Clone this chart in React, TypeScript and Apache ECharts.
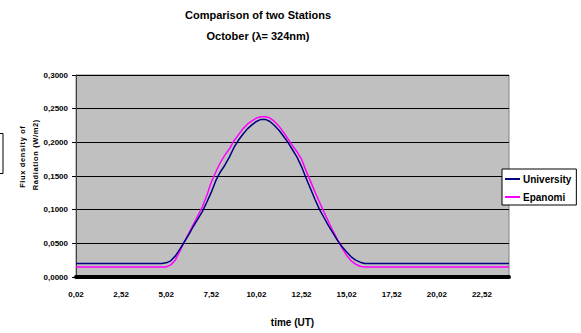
import React, { useEffect, useRef } from "react";
import * as echarts from "echarts";

// Sampling grid: every 0.25 h from 0.02 UT
const startHour = 0.02;
const stepHour = 0.25;
const sampleCount = 97;
const timeLabels = Array.from({ length: sampleCount }, (_, i) =>
  (startHour + stepHour * i).toFixed(2).replace(".", ",")
);

// Flux density (W/m2) at 324 nm, University station
const university = [
  0.02, 0.02, 0.02, 0.02, 0.02, 0.02, 0.02, 0.02, 0.02, 0.02,
  0.02, 0.02, 0.02, 0.02, 0.02, 0.02, 0.02, 0.02, 0.02, 0.02,
  0.021, 0.024, 0.031, 0.041, 0.052, 0.063, 0.075, 0.086, 0.097, 0.111,
  0.126, 0.143, 0.156, 0.166, 0.178, 0.192, 0.203, 0.212, 0.22, 0.226,
  0.231, 0.234, 0.234, 0.231, 0.225, 0.218, 0.209, 0.2, 0.189, 0.178,
  0.164, 0.147, 0.131, 0.115, 0.1, 0.088, 0.076, 0.065, 0.054, 0.045,
  0.037, 0.03, 0.025, 0.022, 0.02,
  0.02, 0.02, 0.02, 0.02, 0.02, 0.02, 0.02, 0.02, 0.02, 0.02,
  0.02, 0.02, 0.02, 0.02, 0.02, 0.02, 0.02, 0.02, 0.02, 0.02,
  0.02, 0.02, 0.02, 0.02, 0.02, 0.02, 0.02, 0.02, 0.02, 0.02,
  0.02, 0.02,
];

// Flux density (W/m2) at 324 nm, Epanomi station
const epanomi = [
  0.015, 0.015, 0.015, 0.015, 0.015, 0.015, 0.015, 0.015, 0.015, 0.015,
  0.015, 0.015, 0.015, 0.015, 0.015, 0.015, 0.015, 0.015, 0.015, 0.015,
  0.015, 0.018, 0.025, 0.038, 0.052, 0.065, 0.078, 0.091, 0.104, 0.121,
  0.141, 0.156, 0.17, 0.181, 0.19, 0.202, 0.211, 0.22, 0.227, 0.232,
  0.236, 0.238, 0.238, 0.236, 0.231, 0.224, 0.215, 0.205, 0.195, 0.186,
  0.175, 0.158, 0.142, 0.126, 0.111, 0.096, 0.082, 0.068, 0.055, 0.043,
  0.032, 0.024, 0.019, 0.016, 0.015,
  0.015, 0.015, 0.015, 0.015, 0.015, 0.015, 0.015, 0.015, 0.015, 0.015,
  0.015, 0.015, 0.015, 0.015, 0.015, 0.015, 0.015, 0.015, 0.015, 0.015,
  0.015, 0.015, 0.015, 0.015, 0.015, 0.015, 0.015, 0.015, 0.015, 0.015,
  0.015, 0.015,
];

const seriesNames = ["University", "Epanomi"];
const titleLines = ["Comparison of two Stations", "October (\u03bb= 324nm)"];
const yAxisTitleLines = ["Flux density of", "Radiation (W/m2)"];
const xAxisTitle = "time (UT)";

const FONT = "'Liberation Sans', Arial, sans-serif";

// widen the rotated axis title with a hair space between letters
const spaced = (s: string) => s.split("").join("\u200A");

export default function App() {
  const ref = useRef<HTMLDivElement>(null);

  useEffect(() => {
    document.body.style.margin = "0";
    if (!ref.current) return;
    const chart = echarts.init(ref.current, null, { renderer: "svg" });
    chart.setOption({
      animation: false,
      backgroundColor: "#ffffff",
      textStyle: { fontFamily: FONT },
      grid: {
        left: 76,
        right: 72,
        top: 75,
        bottom: 56,
        show: true,
        backgroundColor: "#C0C0C0",
        borderColor: "#808080",
        borderWidth: 1,
      },
      legend: {
        orient: "vertical",
        left: 502,
        top: 169,
        padding: [5, 5, 3, 3],
        itemGap: 8,
        itemWidth: 15,
        itemHeight: 2,
        icon: "rect",
        backgroundColor: "#ffffff",
        borderColor: "#000000",
        borderWidth: 1,
        borderRadius: 0,
        textStyle: {
          fontFamily: FONT,
          fontWeight: "bold",
          fontSize: 10,
          color: "#000000",
          padding: [0, 0, 0, -2],
        },
        data: seriesNames,
      },
      xAxis: {
        type: "category",
        data: timeLabels,
        boundaryGap: false,
        offset: 2,
        name: xAxisTitle,
        nameLocation: "middle",
        nameGap: 38,
        nameTextStyle: {
          fontFamily: FONT,
          fontWeight: "bold",
          fontSize: 10,
          color: "#000000",
        },
        axisLine: { show: true, lineStyle: { color: "#000000", width: 4 } },
        axisTick: { show: false },
        axisLabel: {
          interval: 9,
          margin: 11,
          fontFamily: FONT,
          fontWeight: "bold",
          fontSize: 8,
          color: "#000000",
        },
        splitLine: { show: false },
      },
      yAxis: {
        type: "value",
        min: 0,
        max: 0.3,
        interval: 0.05,
        axisLine: { show: true, lineStyle: { color: "#404040", width: 1 } },
        axisTick: { show: true, length: 4, lineStyle: { color: "#000000" } },
        axisLabel: {
          margin: 8,
          fontFamily: FONT,
          fontWeight: "bold",
          fontSize: 8,
          color: "#000000",
          formatter: (v: number) => v.toFixed(4).replace(".", ","),
        },
        splitLine: { show: true, lineStyle: { color: "#000000", width: 1 } },
      },
      series: [
        {
          name: seriesNames[0],
          type: "line",
          data: university,
          showSymbol: false,
          symbol: "none",
          lineStyle: { color: "#000080", width: 1.5 },
          itemStyle: { color: "#000080" },
          z: 3,
        },
        {
          name: seriesNames[1],
          type: "line",
          data: epanomi,
          showSymbol: false,
          symbol: "none",
          lineStyle: { color: "#FF00FF", width: 1.5 },
          itemStyle: { color: "#FF00FF" },
          z: 2,
        },
      ],
      graphic: [
        {
          type: "text",
          x: 258,
          y: 15,
          style: {
            text: titleLines[0],
            fontFamily: FONT,
            fontWeight: "bold",
            fontSize: 11,
            fill: "#000000",
            textAlign: "center",
            textVerticalAlign: "middle",
          },
        },
        {
          type: "text",
          x: 258,
          y: 36,
          style: {
            text: titleLines[1],
            fontFamily: FONT,
            fontWeight: "bold",
            fontSize: 11,
            fill: "#000000",
            textAlign: "center",
            textVerticalAlign: "middle",
          },
        },
        {
          type: "text",
          x: 22,
          y: 157,
          rotation: Math.PI / 2,
          style: {
            text: spaced(yAxisTitleLines[0]),
            fontFamily: FONT,
            fontWeight: "bold",
            fontSize: 7.5,
            fill: "#000000",
            textAlign: "center",
            textVerticalAlign: "middle",
          },
        },
        {
          type: "text",
          x: 35,
          y: 155,
          rotation: Math.PI / 2,
          style: {
            text: spaced(yAxisTitleLines[1]),
            fontFamily: FONT,
            fontWeight: "bold",
            fontSize: 7.5,
            fill: "#000000",
            textAlign: "center",
            textVerticalAlign: "middle",
          },
        },
        {
          type: "rect",
          shape: { x: -30, y: 133.5, width: 33, height: 40 },
          style: { fill: "#ffffff", stroke: "#000000", lineWidth: 1 },
        },
      ],
    });
    return () => chart.dispose();
  }, []);

  return <div ref={ref} style={{ width: 581, height: 333 }} />;
}
